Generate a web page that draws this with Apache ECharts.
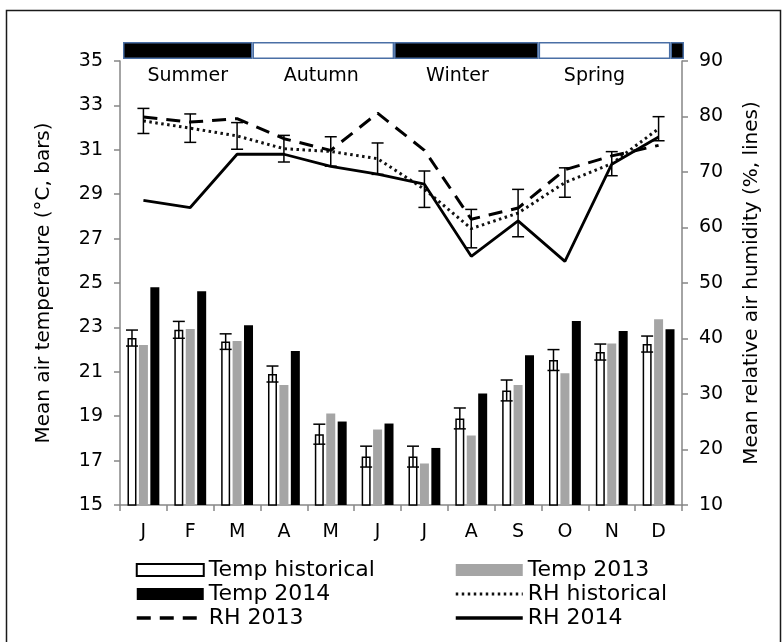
<!DOCTYPE html>
<html>
<head>
<meta charset="utf-8">
<script src="https://cdn.jsdelivr.net/npm/echarts@6/dist/echarts.min.js"></script>
<style>
html,body{margin:0;padding:0;background:#fff;}
#chart{width:784px;height:642px;}
</style>
</head>
<body>
<div id="chart"></div>
<script>
// ---- data ----
const months = ['J','F','M','A','M','J','J','A','S','O','N','D'];
const tempHist    = [22.52, 22.89, 22.36, 20.90, 18.19, 17.18, 17.18, 18.90, 20.16, 21.53, 21.89, 22.25];
const tempHistErr = [0.36, 0.38, 0.35, 0.36, 0.45, 0.47, 0.47, 0.47, 0.47, 0.47, 0.36, 0.36];
const temp2013    = [22.21, 22.93, 22.39, 20.40, 19.12, 18.40, 16.87, 18.13, 20.40, 20.93, 22.28, 23.37];
const temp2014    = [24.81, 24.63, 23.10, 21.94, 18.76, 18.67, 17.57, 20.02, 21.74, 23.29, 22.84, 22.92];
const rhHist      = [79.2, 77.9, 76.5, 74.2, 73.7, 72.4, 66.9, 59.8, 62.6, 68.1, 71.5, 77.8];
const rhHistErr   = [2.26, 2.56, 2.40, 2.40, 2.65, 2.83, 3.28, 3.46, 4.27, 2.65, 2.17, 2.17];
const rh2013      = [79.9, 79.0, 79.6, 76.0, 73.9, 80.6, 73.9, 61.5, 63.5, 70.4, 72.9, 74.8];
const rh2014      = [64.9, 63.6, 73.2, 73.2, 71.0, 69.6, 67.8, 54.8, 61.2, 53.9, 71.4, 76.3];
const seasonNames   = ['Summer', 'Autumn', 'Winter', 'Spring', ''];
const seasonLengths = [2.77, 3.03, 3.09, 2.82, 0.29]; // in months
const tempTicks = {min: 15, max: 35, interval: 2};
const rhTicks   = {min: 10, max: 90, interval: 10};

// ---- styles ----
const FONT = 'DejaVu Sans';
const BAR_W = 9, BAR_GAP_PCT = 27;
const whiteOffset = -(BAR_W + BAR_W * BAR_GAP_PCT / 100);
const seasonLabelOffsets = [[0, 0], [-2, 0], [-9, 0], [-10, 0], [0, 0]];

function errRenderer(offsetPx) {
  return function (params, api) {
    const x = api.value(0), v = api.value(1), e = api.value(2);
    const top = api.coord([x, v + e]);
    const bot = api.coord([x, v - e]);
    const cx = top[0] + offsetPx;
    const hw = 6;
    const st = {stroke: '#000', lineWidth: 1.5};
    return {
      type: 'group',
      children: [
        {type: 'line', shape: {x1: cx, y1: top[1], x2: cx, y2: bot[1]}, style: st},
        {type: 'line', shape: {x1: cx - hw, y1: top[1], x2: cx + hw, y2: top[1]}, style: st},
        {type: 'line', shape: {x1: cx - hw, y1: bot[1], x2: cx + hw, y2: bot[1]}, style: st}
      ]
    };
  };
}

const axisLineStyle = {lineStyle: {color: '#868686', width: 1.5}};
const axisTickStyle = {show: true, length: 6, lineStyle: {color: '#868686', width: 1.5}};
const axisLabelStyle = {color: '#000', fontFamily: FONT, fontSize: 19};
const legendText = {color: '#000', fontFamily: FONT, fontSize: 22, lineHeight: 24};
const hiddenSymbol = {opacity: 0, color: 'rgba(0,0,0,0)', borderWidth: 0};

const seasonSeries = seasonNames.map((n, i) => ({
  type: 'bar',
  name: 'season' + i,
  xAxisIndex: 1,
  yAxisIndex: 2,
  stack: 'season',
  barWidth: 17,
  data: [seasonLengths[i]],
  itemStyle: {color: i % 2 === 0 ? '#000' : '#fff', borderColor: '#4a6fa5', borderWidth: 1.5},
  label: {
    show: n !== '',
    position: 'bottom',
    distance: 8,
    formatter: n,
    offset: seasonLabelOffsets[i],
    color: '#000',
    fontFamily: FONT,
    fontSize: 19
  },
  silent: true
}));

const option = {
  animation: false,
  backgroundColor: '#fff',
  textStyle: {fontFamily: FONT},
  graphic: [{
    type: 'rect',
    shape: {x: 6.5, y: 10.5, width: 774, height: 700},
    style: {fill: 'none', stroke: '#1a1a1a', lineWidth: 1.5},
    z: -1
  }],
  grid: [
    {left: 120, right: 102, top: 61, bottom: 137},
    {left: 123, right: 100, top: 42, height: 17}
  ],
  xAxis: [
    {
      type: 'category', gridIndex: 0, data: months,
      axisLine: axisLineStyle, axisTick: axisTickStyle,
      axisLabel: Object.assign({margin: 18, interval: 0}, axisLabelStyle),
      splitLine: {show: false}
    },
    {type: 'value', gridIndex: 1, min: 0, max: 12, show: false}
  ],
  yAxis: [
    {
      type: 'value', gridIndex: 0, position: 'left',
      min: tempTicks.min, max: tempTicks.max, interval: tempTicks.interval,
      axisLine: Object.assign({show: true}, axisLineStyle), axisTick: axisTickStyle,
      axisLabel: Object.assign({margin: 17}, axisLabelStyle),
      splitLine: {show: false},
      name: 'Mean air temperature (°C, bars)', nameLocation: 'middle', nameGap: 66,
      nameTextStyle: {color: '#000', fontFamily: FONT, fontSize: 20}
    },
    {
      type: 'value', gridIndex: 0, position: 'right',
      min: rhTicks.min, max: rhTicks.max, interval: rhTicks.interval,
      axisLine: Object.assign({show: true}, axisLineStyle), axisTick: axisTickStyle,
      axisLabel: Object.assign({margin: 17}, axisLabelStyle),
      splitLine: {show: false},
      name: 'Mean relative air humidity (%, lines)', nameLocation: 'middle', nameGap: 60,
      nameTextStyle: {color: '#000', fontFamily: FONT, fontSize: 20}
    },
    {type: 'category', gridIndex: 1, data: ['s'], show: false}
  ],
  legend: [
    {
      orient: 'vertical', left: 130, top: 553,
      itemWidth: 67, itemHeight: 12, itemGap: 0,
      data: [
        {name: 'Temp historical', icon: 'rect'},
        {name: 'Temp 2014', icon: 'rect'},
        {name: 'RH 2013', itemStyle: hiddenSymbol, lineStyle: {width: 3.5}}
      ],
      textStyle: legendText,
      selectedMode: false
    },
    {
      orient: 'vertical', left: 449, top: 553,
      itemWidth: 67, itemHeight: 12, itemGap: 0,
      data: [
        {name: 'Temp 2013', icon: 'rect'},
        {name: 'RH historical', itemStyle: hiddenSymbol, lineStyle: {width: 3}},
        {name: 'RH 2014', itemStyle: hiddenSymbol, lineStyle: {width: 3.5}}
      ],
      textStyle: legendText,
      selectedMode: false
    }
  ],
  series: [
    {
      name: 'Temp historical', type: 'bar', xAxisIndex: 0, yAxisIndex: 0,
      data: tempHist, barWidth: BAR_W, barGap: BAR_GAP_PCT + '%',
      itemStyle: {color: '#fff', borderColor: '#000', borderWidth: 1.5}
    },
    {
      name: 'Temp 2013', type: 'bar', xAxisIndex: 0, yAxisIndex: 0,
      data: temp2013, barWidth: BAR_W, barGap: BAR_GAP_PCT + '%',
      itemStyle: {color: '#a5a5a5'}
    },
    {
      name: 'Temp 2014', type: 'bar', xAxisIndex: 0, yAxisIndex: 0,
      data: temp2014, barWidth: BAR_W, barGap: BAR_GAP_PCT + '%',
      itemStyle: {color: '#000'}
    },
    {
      name: 'RH historical', type: 'line', xAxisIndex: 0, yAxisIndex: 1,
      data: rhHist, symbol: 'none', z: 4,
      lineStyle: {color: '#111', width: 3, type: [2.5, 3.5]},
      itemStyle: {color: '#111'}
    },
    {
      name: 'RH 2013', type: 'line', xAxisIndex: 0, yAxisIndex: 1,
      data: rh2013, symbol: 'none', z: 4,
      lineStyle: {color: '#000', width: 3, type: [14, 9]},
      itemStyle: {color: '#000'}
    },
    {
      name: 'RH 2014', type: 'line', xAxisIndex: 0, yAxisIndex: 1,
      data: rh2014, symbol: 'none', z: 4,
      lineStyle: {color: '#000', width: 2.8, type: 'solid'},
      itemStyle: {color: '#000'}
    },
    {
      name: 'tempErr', type: 'custom', xAxisIndex: 0, yAxisIndex: 0, z: 5,
      renderItem: errRenderer(whiteOffset),
      encode: {x: 0, y: 1},
      data: tempHist.map((v, i) => [i, v, tempHistErr[i]]),
      silent: true
    },
    {
      name: 'rhErr', type: 'custom', xAxisIndex: 0, yAxisIndex: 1, z: 5,
      renderItem: errRenderer(0),
      encode: {x: 0, y: 1},
      data: rhHist.map((v, i) => [i, v, rhHistErr[i]]),
      silent: true
    }
  ].concat(seasonSeries)
};

const chart = echarts.init(document.getElementById('chart'), null, {renderer: 'canvas'});
chart.setOption(option);
</script>
</body>
</html>
